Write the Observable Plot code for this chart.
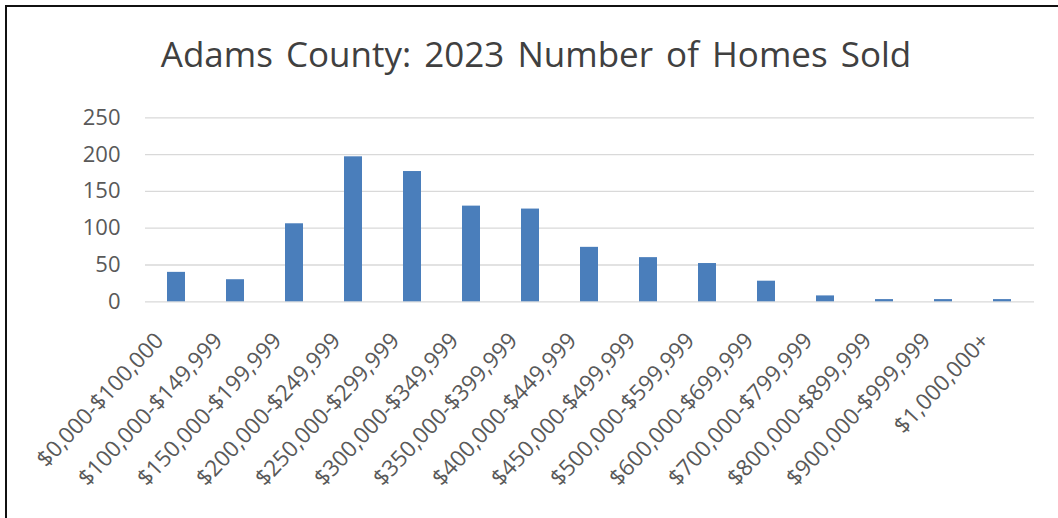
<!DOCTYPE html>
<html>
<head>
<meta charset="utf-8">
<script src="https://cdn.jsdelivr.net/npm/d3@7"></script>
<script src="https://cdn.jsdelivr.net/npm/@observablehq/plot@0.6"></script>
<style>
  html, body { margin: 0; padding: 0; background: #fff; }
  #wrap { position: relative; width: 1058px; height: 518px; overflow: hidden; font-family: "Open Sans", sans-serif; }
  #bt { position: absolute; left: 5px; top: 5px; width: 1053px; height: 2px; background: #111; }
  #bl { position: absolute; left: 5px; top: 5px; width: 2px; height: 513px; background: #111; }
  #title { position: absolute; left: 0; width: 1058px; top: 30px; height: 48px; line-height: 48px; text-align: center;
           font-size: 35px; color: #404040; padding-left: 14px; box-sizing: border-box; word-spacing: 4px; }
  #chart { position: absolute; left: 0; top: 90px; }
</style>
</head>
<body>
<div id="wrap">
  <div id="title">Adams County: 2023 Number of Homes Sold</div>
  <div id="chart"></div>
  <div id="bt"></div>
  <div id="bl"></div>
</div>
<script>
const categories = [
  "$0,000-$100,000", "$100,000-$149,999", "$150,000-$199,999", "$200,000-$249,999",
  "$250,000-$299,999", "$300,000-$349,999", "$350,000-$399,999", "$400,000-$449,999",
  "$450,000-$499,999", "$500,000-$599,999", "$600,000-$699,999", "$700,000-$799,999",
  "$800,000-$899,999", "$900,000-$999,999", "$1,000,000+"
];
const homesSold = [40, 30, 106, 197, 177, 130, 126, 74, 60, 52, 28, 8, 3, 3, 3];
const yTicks = [0, 50, 100, 150, 200, 250];

const data = categories.map((c, i) => ({category: c, value: homesSold[i]}));

const chart = Plot.plot({
  width: 1058,
  height: 428,
  marginLeft: 145,
  marginRight: 24,
  marginTop: 27.3,
  marginBottom: 216.7,
  style: {fontFamily: "'Open Sans', sans-serif", fontSize: "22px", color: "#595959", background: "transparent"},
  x: {domain: categories, paddingInner: 0.69, paddingOuter: 0.352, label: null},
  y: {domain: [0, 250], label: null},
  marks: [
    Plot.ruleY(yTicks, {stroke: "#d9d9d9", strokeWidth: 1.3}),
    Plot.barY(data, {x: "category", y: "value", fill: "#4a7ebb"}),
    Plot.axisY(yTicks, {tickSize: 0, tickPadding: 25, fontSize: 22, fill: "#595959", label: null}),
    Plot.axisX({tickSize: 0, tickRotate: -47, tickPadding: 35, dx: -17, fontSize: 22.5, fill: "#595959", label: null})
  ]
});
document.getElementById("chart").appendChild(chart);
</script>
</body>
</html>
